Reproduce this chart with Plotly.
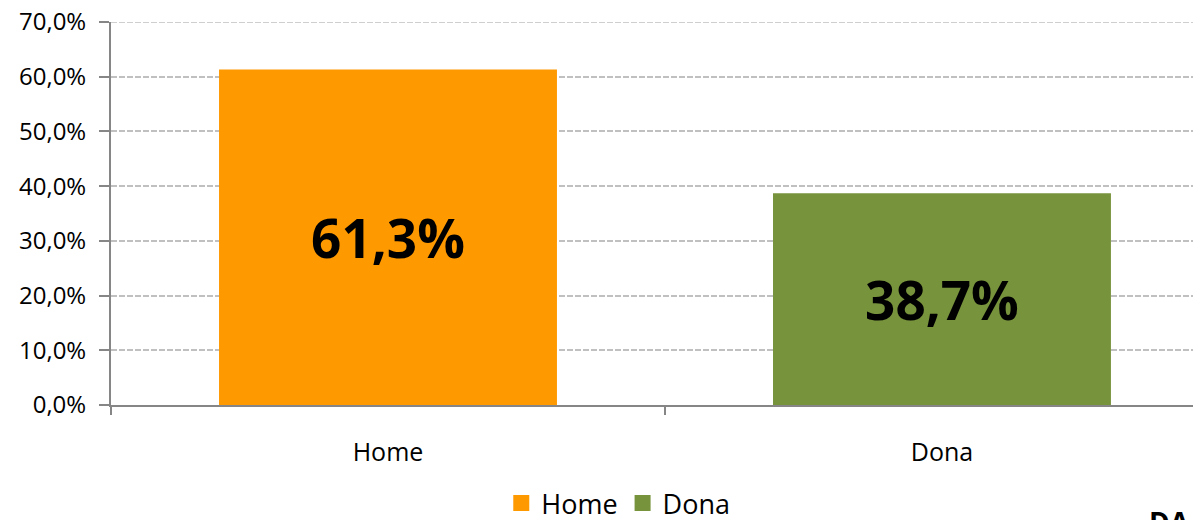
import plotly.graph_objects as go

categories = ["Home", "Dona"]
values = [0.613, 0.387]
colors = ["#FF9900", "#77933C"]
y_max = 0.7

grid_style = dict(color="#C0C0C0", width=1.5, dash="6px,2px")

fig = go.Figure()
for cat, val, col in zip(categories, values, colors):
    fig.add_trace(go.Bar(
        x=[cat], y=[val], name=cat,
        marker=dict(color=col, line=dict(width=0)),
        width=0.61,
        texttemplate="%{y:.1%}",
        textposition="inside",
        insidetextanchor="middle",
        textangle=0,
        textfont=dict(size=53, color="black", family="Open Sans", weight="bold"),
        hoverinfo="skip",
        showlegend=False,
    ))
    # legend entry with a larger square swatch
    fig.add_trace(go.Scatter(
        x=[None], y=[None], mode="markers", name=cat,
        marker=dict(symbol="square", size=18, color=col),
        hoverinfo="skip",
    ))

fig.update_layout(
    width=1201, height=520,
    margin=dict(l=103, r=0, t=14, b=122),
    paper_bgcolor="white", plot_bgcolor="white",
    barmode="overlay",
    separators=", ",
    font=dict(family="Open Sans", color="black"),
    showlegend=True,
    legend=dict(orientation="h", x=0.462, xanchor="center", y=-0.258, yanchor="middle",
                font=dict(size=27), itemwidth=30, tracegroupgap=0),
    xaxis=dict(
        type="category", range=[-0.5, 1.482], automargin=False,
        showline=True, linecolor="#868686", linewidth=2,
        ticks="outside", tickson="boundaries", ticklen=8, tickcolor="#868686", tickwidth=2,
        tickfont=dict(size=25), showgrid=False, ticklabelstandoff=24,
    ),
    yaxis=dict(
        range=[0, y_max], dtick=0.1, tickformat=".1%", automargin=False,
        showline=True, linecolor="#868686", linewidth=2,
        ticks="outside", ticklen=10, tickcolor="#868686", tickwidth=2,
        tickfont=dict(size=24), ticklabelstandoff=8, ticklabeloverflow="allow",
        showgrid=True, gridcolor=grid_style["color"], griddash=grid_style["dash"],
        gridwidth=grid_style["width"],
        zeroline=False,
    ),
)

# top gridline (plotly drops the one sitting on the plot edge)
fig.add_shape(type="line", xref="paper", yref="y", x0=0, x1=1, y0=y_max, y1=y_max,
              line=grid_style, layer="below")

# partly visible source text at the bottom-right corner
fig.add_annotation(text="<b>DA</b>", xref="paper", yref="paper", x=0.9435, y=-0.250,
                   xanchor="left", yanchor="top", showarrow=False,
                   font=dict(size=28, color="black", family="Open Sans"))

fig.write_html("out.html")
